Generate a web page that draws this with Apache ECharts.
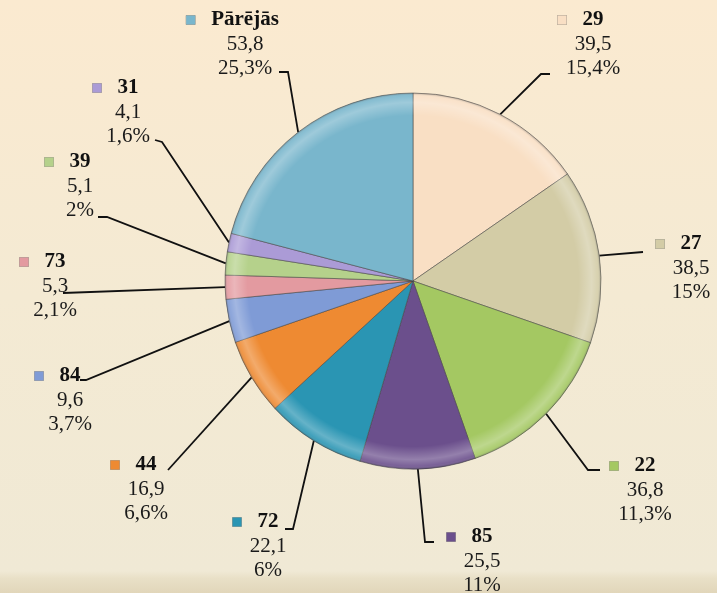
<!DOCTYPE html>
<html>
<head>
<meta charset="utf-8">
<script src="https://cdn.jsdelivr.net/npm/echarts@6/dist/echarts.min.js"></script>
<style>
  html, body { margin: 0; padding: 0; }
  #chart { width: 717px; height: 593px; }
</style>
</head>
<body>
<div id="chart"></div>
<script>
// pie slices, clockwise from 12 o'clock
const names = ["29", "27", "22", "85", "72", "44", "84", "73", "39", "31", "Pārējās"];
const values = [39.5, 38.5, 36.8, 25.5, 22.1, 16.9, 9.6, 5.3, 5.1, 4.1, 53.8];
const percents = ["15,4%", "15%", "11,3%", "11%", "6%", "6,6%", "3,7%", "2,1%", "2%", "1,6%", "25,3%"];
const colors = ["#f9dfc4", "#d3cca6", "#a4c862", "#6b4f8c", "#2a95b3", "#ee8a32",
                "#7f9bd6", "#e39aa0", "#b5d18b", "#ab9bd6", "#79b6cc"];

// where each label block sits (center of the text)
const labelPos = [
  [593, 44], [691, 268], [645, 490], [482, 561], [268, 546], [146, 489],
  [70, 400], [55, 286], [80, 186], [128, 112], [245, 44]
];
// leader line: bend point and end point near the label
const lineEnds = [
  [[541, 74], [550, 74]], [[643, 252], [643, 252]], [[588, 470], [600, 470]],
  [[425, 542], [434, 542]], [[293, 529], [285, 529]], [[168, 470], [168, 470]],
  [[86, 380], [80, 380]], [[63, 293], [63, 293]], [[107, 217], [98, 217]],
  [[162, 142], [155, 140]], [[288, 72], [279, 72]]
];

const FONT = "Liberation Serif";

const chart = echarts.init(document.getElementById("chart"));

const rich = {
  n: { fontFamily: FONT, fontWeight: "bold", fontSize: 21, color: "#111", lineHeight: 24 },
  v: { fontFamily: FONT, fontSize: 21, color: "#1a1a1a", lineHeight: 24 },
  sp: { width: 16 },
  sp2: { width: 25 }
};
colors.forEach((c, i) => {
  rich["m" + i] = {
    width: 9, height: 9, backgroundColor: c,
    borderColor: "rgba(80,80,80,0.5)", borderWidth: 0.5
  };
});

const fmt = (v) => String(v).replace(".", ",");

chart.setOption({
  backgroundColor: {
    type: "linear", x: 0, y: 0, x2: 0, y2: 1,
    colorStops: [
      { offset: 0, color: "#fbead0" },
      { offset: 0.5, color: "#f4ead3" },
      { offset: 0.963, color: "#f0e9d5" },
      { offset: 0.975, color: "#e9e0c7" },
      { offset: 1, color: "#e1d6ba" }
    ]
  },
  animation: false,
  series: [
    {
      type: "pie",
      center: [413, 281],
      radius: 188,
      startAngle: 90,
      clockwise: true,
      data: names.map((n, i) => ({
        name: n,
        value: values[i],
        itemStyle: { color: colors[i] }
      })),
      itemStyle: {
        borderColor: "rgba(70,70,70,0.55)",
        borderWidth: 1
      },
      label: {
        show: true,
        position: "outside",
        align: "center",
        fontFamily: FONT,
        formatter: (p) =>
          "{m" + p.dataIndex + "|}{sp|}{n|" + p.name + "}{sp2|}\n{v|" + fmt(p.value) + "}\n{v|" + percents[p.dataIndex] + "}",
        rich: rich
      },
      labelLine: {
        show: true,
        length: 20,
        length2: 10,
        lineStyle: { color: "#111", width: 1.8 }
      },
      labelLayout: (p) => {
        const i = p.dataIndex;
        const anchor = p.labelLinePoints ? p.labelLinePoints[0] : lineEnds[i][0];
        return {
          x: labelPos[i][0],
          y: labelPos[i][1],
          align: "center",
          verticalAlign: "middle",
          labelLinePoints: [anchor, lineEnds[i][0], lineEnds[i][1]]
        };
      }
    },
    {
      // rim highlight overlay
      type: "pie",
      silent: true,
      center: [413, 281],
      radius: 188,
      startAngle: 90,
      data: values.map((v) => ({ value: v })),
      label: { show: false },
      labelLine: { show: false },
      itemStyle: {
        borderWidth: 0,
        color: {
          type: "radial", x: 413, y: 281, r: 188, global: true,
          colorStops: [
            { offset: 0, color: "rgba(255,255,255,0)" },
            { offset: 0.88, color: "rgba(255,255,255,0)" },
            { offset: 0.95, color: "rgba(255,255,255,0.28)" },
            { offset: 0.985, color: "rgba(255,255,255,0.1)" },
            { offset: 1, color: "rgba(60,60,60,0.35)" }
          ]
        }
      }
    }
  ]
});
</script>
</body>
</html>
